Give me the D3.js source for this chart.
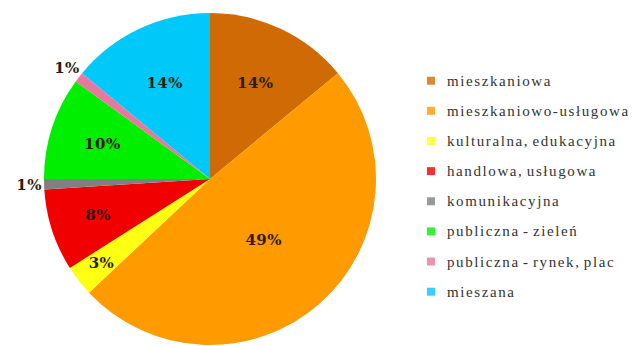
<!DOCTYPE html>
<html><head><meta charset="utf-8">
<script src="https://cdn.jsdelivr.net/npm/d3@7"></script>
<style>body{margin:0;background:#fff;}svg{display:block;}</style>
</head><body>
<script>
const categories = ["mieszkaniowa","mieszkaniowo-usługowa","kulturalna, edukacyjna","handlowa, usługowa","komunikacyjna","publiczna - zieleń","publiczna - rynek, plac","mieszana"];
const values = [14,49,3,8,1,10,1,14];
const labels = ["14%","49%","3%","8%","1%","10%","1%","14%"];
const colors = ["#CF6A05","#FF9A00","#FFFF14","#F00000","#808080","#00EE00","#E8789E","#00C8F8"];

const W=632,H=346;
const svg=d3.select("body").append("svg").attr("width",W).attr("height",H);
const cx=210, cy=179, R=166;
const color=d3.scaleOrdinal().domain(categories).range(colors);
const data=categories.map((c,i)=>({cat:c,value:values[i],label:labels[i]}));
const pie=d3.pie().value(d=>d.value).sort(null);
const arcs=pie(data);
const arc=d3.arc().innerRadius(0).outerRadius(R);
const g=svg.append("g").attr("transform",`translate(${cx},${cy})`);
g.selectAll("path").data(arcs).join("path").attr("d",arc).attr("fill",d=>color(d.data.cat));

// best-fit style label radius: smaller slices pushed outward, tiny slices outside
const labelR=v=> v<2 ? R+15 : R*(0.96-0.121*Math.log(v));
g.selectAll("text").data(arcs).join("text")
 .attr("transform",d=>{const r=labelR(d.data.value); const p=d3.arc().innerRadius(r).outerRadius(r).centroid(d); return `translate(${p[0]},${p[1]})`;})
 .attr("text-anchor","middle").attr("dominant-baseline","central")
 .attr("font-family","'DejaVu Serif', serif").attr("font-weight","bold").attr("font-size",15)
 .attr("letter-spacing",0.5)
 .attr("fill","#2a1c10").text(d=>d.data.label);

const leg=svg.append("g");
const y=d3.scalePoint().domain(categories).range([80.7,291.7]);
const rows=leg.selectAll("g").data(categories).join("g").attr("transform",d=>`translate(427,${y(d)})`);
rows.append("rect").attr("x",0).attr("y",-4).attr("width",8).attr("height",8).attr("fill",d=>color(d)).attr("opacity",0.8);
rows.append("text").attr("x",20).attr("dominant-baseline","central")
 .attr("font-family","'Liberation Serif', serif").attr("font-size",15).attr("letter-spacing",1.6)
 .attr("word-spacing",-2)
 .attr("fill","#333").text(d=>d);
</script>
</body></html>
